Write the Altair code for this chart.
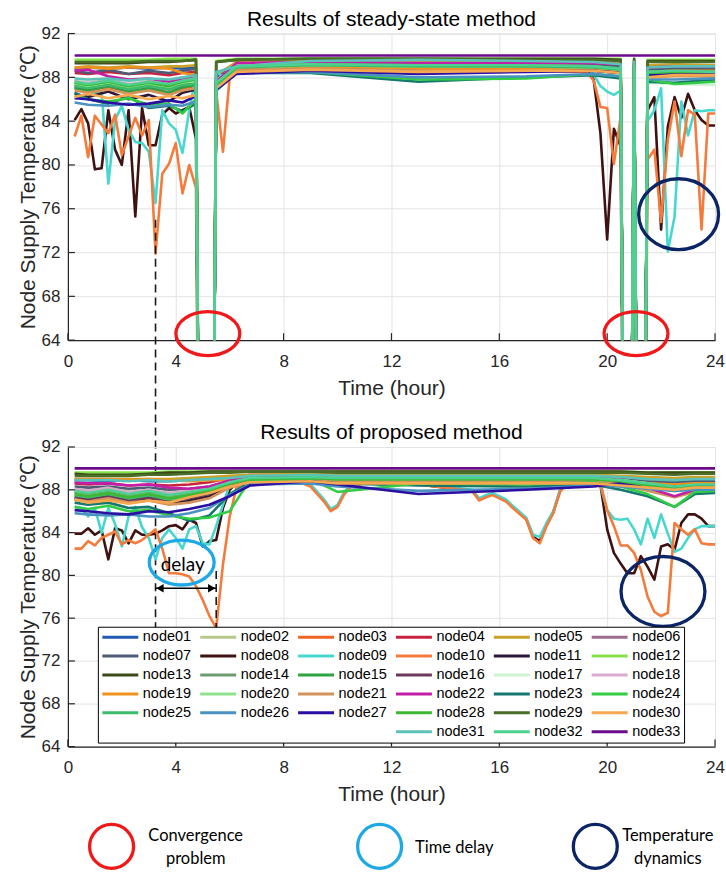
import altair as alt
import pandas as pd

# ---------------------------------------------------------------- data
NODES = [f"node{i:02d}" for i in range(1, 34)]
COLORS = [
    "#1f5bb3", "#b8c98c", "#f06422", "#c7223f", "#c9a227", "#9c6b8e",
    "#4e5d77", "#3f1212", "#46d8cf", "#f47b3b", "#2f1636", "#84e04c",
    "#3a4a18", "#6f9b70", "#2da441", "#6a3a5d", "#cdf3d2", "#d8aacb",
    "#f0921f", "#8fe38c", "#d4935b", "#c41ea9", "#14786f", "#33cc45",
    "#3cbd6b", "#4a92c1", "#2b0fa3", "#3cb833", "#4a6d28", "#f5a84f",
    "#5cc2b9", "#4dd190", "#6b0b8c",
]
BLANKS = [" ", "  ", "   "]
# legend grid as it appears (6 rows x 6 columns, read row by row)
LEGEND_ROWS = [NODES[0:6], NODES[6:12], NODES[12:18], NODES[18:24], NODES[24:30],
               BLANKS + NODES[30:33]]

X_TICKS = [0, 4, 8, 12, 16, 20, 24]
Y_TICKS = [64, 68, 72, 76, 80, 84, 88, 92]

# source node (constant supply temperature)
T_SOURCE = [0.25, 24.0]
V_SOURCE = [90.0, 90.0]

# time steps where the steady-state method did not converge
NONCONV_T = [5.0, 5.25, 20.75, 21.25]
NONCONV_V = 0.0

# ---- steady-state method, background nodes
T_TOP = [0.25, 0.75, 1.5, 2.25, 3.0, 3.75, 4.25, 4.75, 5.5, 6.25, 9, 13, 17,
         19.5, 20.5, 21.0, 21.5, 22.5, 24]
TOP = {
    "node01": [88.8, 88.9, 88.8, 88.9, 88.8, 88.9, 88.8, 88.9, 88.0, 89.0, 89.1, 89.0, 89.0, 89.0, 88.9, 89.0, 88.7, 88.8, 88.8],
    "node02": [87.8, 87.6, 87.9, 87.7, 87.8, 87.6, 87.9, 88.0, 87.6, 89.2, 89.3, 89.2, 89.2, 89.2, 89.0, 89.2, 88.6, 88.7, 88.7],
    "node03": [87.0, 86.8, 87.1, 86.7, 87.0, 86.6, 87.0, 87.2, 87.2, 88.7, 88.8, 88.7, 88.7, 88.7, 88.5, 88.8, 88.1, 88.3, 88.2],
    "node04": [88.4, 88.3, 88.5, 88.3, 88.4, 88.2, 88.4, 88.5, 87.8, 89.3, 89.4, 89.3, 89.3, 89.3, 89.2, 89.3, 88.9, 89.0, 89.0],
    "node05": [88.9, 89.0, 88.9, 89.0, 88.9, 89.0, 89.0, 89.1, 88.2, 89.4, 89.5, 89.4, 89.4, 89.4, 89.3, 89.4, 89.1, 89.2, 89.1],
    "node06": [87.6, 87.4, 87.7, 87.3, 87.6, 87.3, 87.6, 87.8, 87.4, 89.0, 89.1, 89.0, 89.0, 89.0, 88.8, 89.0, 88.5, 88.6, 88.5],
    "node07": [88.6, 88.4, 88.7, 88.3, 88.6, 88.4, 88.6, 88.8, 87.9, 89.1, 89.2, 89.1, 89.1, 89.1, 89.0, 89.1, 88.7, 88.8, 88.8],
    "node11": [86.5, 86.2, 86.7, 86.0, 86.4, 85.8, 86.6, 86.9, 87.1, 88.6, 88.8, 88.7, 88.7, 88.6, 88.4, 88.6, 88.0, 88.2, 88.1],
    "node12": [89.6, 89.6, 89.6, 89.6, 89.6, 89.7, 89.7, 89.7, 89.5, 89.7, 89.7, 89.7, 89.7, 89.7, 89.7, 89.7, 89.6, 89.6, 89.6],
    "node13": [89.3, 89.3, 89.3, 89.3, 89.4, 89.4, 89.5, 89.6, 89.4, 89.6, 89.7, 89.7, 89.7, 89.7, 89.6, 89.7, 89.5, 89.5, 89.5],
    "node14": [87.3, 87.1, 87.4, 87.0, 87.3, 87.0, 87.4, 87.6, 87.3, 88.9, 89.1, 89.0, 89.0, 88.9, 88.7, 88.9, 88.3, 88.4, 88.4],
    "node15": [87.0, 86.8, 87.2, 86.7, 87.0, 86.6, 87.1, 87.3, 87.2, 88.8, 89.0, 88.9, 88.9, 88.8, 88.6, 88.8, 88.2, 88.3, 88.3],
    "node16": [87.2, 87.0, 87.3, 86.9, 87.2, 86.9, 87.3, 87.5, 87.3, 88.8, 89.0, 88.9, 88.9, 88.8, 88.6, 88.8, 88.2, 88.3, 88.3],
    "node17": [87.9, 87.7, 88.0, 87.6, 87.9, 87.7, 88.0, 88.1, 87.7, 89.1, 89.2, 89.1, 89.1, 89.0, 88.7, 89.0, 87.5, 87.4, 87.3],
    "node18": [87.6, 87.5, 87.7, 87.4, 87.6, 87.4, 87.7, 87.8, 87.5, 89.0, 89.1, 89.0, 89.0, 88.9, 88.7, 88.9, 88.4, 88.5, 88.4],
    "node19": [88.9, 88.9, 88.8, 88.9, 88.9, 88.8, 88.4, 88.2, 87.6, 88.9, 89.0, 88.8, 88.8, 88.8, 88.7, 88.8, 88.5, 88.6, 88.6],
    "node20": [87.4, 87.2, 87.5, 87.1, 87.4, 87.1, 87.5, 87.6, 87.4, 88.9, 89.1, 89.0, 89.0, 88.9, 88.7, 88.9, 88.3, 88.4, 88.3],
    "node21": [86.8, 86.6, 86.9, 86.5, 86.8, 86.4, 86.8, 87.0, 87.0, 88.7, 88.8, 88.6, 88.6, 88.6, 88.4, 88.6, 88.0, 88.1, 88.1],
    "node22": [88.6, 88.7, 88.1, 87.8, 87.9, 87.6, 87.8, 88.2, 87.6, 89.3, 89.4, 89.3, 89.3, 89.3, 89.2, 89.3, 88.9, 89.0, 89.0],
    "node23": [86.6, 86.0, 85.6, 86.2, 85.2, 85.4, 84.9, 85.6, 86.8, 88.4, 88.4, 87.6, 88.0, 88.2, 87.9, 88.4, 87.6, 87.5, 87.8],
    "node24": [86.3, 86.0, 85.8, 86.1, 85.5, 85.6, 84.7, 86.0, 86.9, 88.5, 88.5, 87.8, 87.9, 88.3, 88.1, 88.4, 87.8, 87.4, 87.6],
    "node25": [87.2, 87.0, 87.3, 86.9, 87.2, 86.9, 87.3, 87.4, 87.2, 88.9, 89.1, 89.0, 89.0, 88.9, 88.7, 88.9, 88.3, 88.4, 88.4],
    "node26": [85.7, 85.5, 85.4, 85.6, 85.3, 85.5, 85.4, 85.8, 86.8, 88.4, 88.5, 88.0, 88.1, 88.3, 88.1, 88.4, 87.8, 87.8, 87.9],
    "node27": [86.1, 86.0, 85.7, 85.5, 85.6, 85.9, 85.7, 86.3, 86.9, 88.3, 88.6, 88.3, 88.5, 88.6, 88.4, 88.6, 88.2, 88.3, 88.3],
    "node28": [87.5, 87.3, 87.6, 87.2, 87.5, 87.2, 87.6, 87.8, 87.4, 89.0, 89.2, 89.1, 89.1, 89.0, 88.8, 89.0, 88.4, 88.5, 88.5],
    "node29": [89.4, 89.4, 89.4, 89.4, 89.5, 89.5, 89.5, 89.6, 89.4, 89.6, 89.7, 89.7, 89.6, 89.6, 89.5, 89.6, 89.4, 89.4, 89.4],
    "node30": [86.2, 86.5, 86.1, 86.4, 86.0, 86.3, 86.1, 86.4, 87.0, 88.5, 88.7, 88.5, 88.6, 88.6, 88.4, 88.6, 88.0, 88.2, 88.2],
    "node31": [87.9, 87.8, 87.9, 87.7, 87.9, 87.8, 88.0, 88.2, 88.5, 89.0, 89.5, 89.6, 89.5, 89.4, 89.2, 89.4, 88.9, 89.0, 89.0],
    "node32": [87.6, 87.4, 87.7, 87.3, 87.6, 87.4, 87.7, 87.9, 87.5, 89.0, 89.2, 89.1, 89.1, 89.0, 88.8, 89.0, 88.5, 88.6, 88.5],
}

# ---- steady-state method, strongly varying nodes
T_TOP_FINE = [0.25, 0.5, 0.75, 1.0, 1.25, 1.5, 1.75, 2.0, 2.25, 2.5, 2.75, 3.0,
              3.25, 3.5, 3.75, 4.0, 4.25, 4.5, 4.75,
              5.5, 5.75, 6.0, 6.25, 9, 13, 17, 19.25, 19.5, 19.75, 20.0, 20.25,
              20.5, 21.0, 21.5, 21.75, 22.0, 22.25, 22.5, 22.75, 23.0, 23.25,
              23.5, 23.75, 24.0]
TOP_FINE = {
    "node08": [84.1, 85.1, 83.8, 79.6, 79.7, 85.0, 81.4, 80.0, 85.0, 75.3, 85.2, 81.8,
               81.8, 84.6, 85.2, 84.7, 85.0, 85.3, 82.4,
               87.0, 87.6, 88.2, 88.6, 88.8, 88.7, 88.7, 88.6, 87.8, 82.9, 73.2, 83.3,
               81.7, 88.4, 85.0, 86.2, 74.1, 83.5, 86.2, 84.3, 86.5, 85.0,
               84.1, 83.6, 83.6],
    "node09": [87.0, 86.8, 86.9, 86.5, 86.7, 78.3, 84.1, 85.4, 83.2, 82.1, 82.0, 81.2,
               76.5, 85.0, 83.8, 83.2, 81.1, 85.0, 88.2,
               88.6, 88.0, 88.9, 89.0, 89.2, 89.1, 89.0, 88.9, 88.3, 87.2, 86.7, 86.4,
               86.8, 88.6, 84.0, 85.0, 87.0, 72.1, 75.3, 85.8, 82.7, 85.0,
               84.9, 85.0, 85.0],
    "node10": [82.6, 84.5, 80.7, 84.5, 83.7, 82.9, 84.6, 80.9, 82.6, 84.3, 82.7, 84.1,
               71.9, 79.2, 80.1, 82.0, 77.4, 80.0, 77.9,
               86.7, 81.2, 88.0, 88.6, 88.7, 88.6, 88.6, 88.5, 87.7, 85.3, 85.2, 80.1,
               84.4, 88.4, 80.5, 81.4, 74.8, 82.3, 85.8, 80.8, 85.0, 84.6,
               74.1, 84.7, 84.7],
}

# ---- proposed method, background nodes
T_BOT = [0.25, 0.75, 1.5, 2.25, 3.0, 3.75, 4.5, 5.25, 6.0, 6.75, 9, 10, 13, 17,
         19.5, 20.5, 21.5, 22.5, 23.25, 24]
BOT = {
    "node01": [88.9, 88.9, 88.8, 88.9, 88.8, 88.8, 88.9, 89.0, 89.2, 89.3, 89.3, 89.2, 89.2, 89.2, 89.2, 89.1, 88.9, 88.8, 88.9, 88.9],
    "node02": [88.0, 87.9, 88.1, 87.9, 88.0, 87.8, 87.9, 88.2, 88.8, 89.2, 89.3, 89.2, 89.2, 89.2, 89.2, 89.0, 88.8, 88.6, 88.8, 88.8],
    "node03": [87.1, 86.9, 87.2, 86.8, 87.0, 86.7, 86.9, 87.3, 88.3, 88.9, 89.0, 88.9, 88.9, 88.9, 88.9, 88.7, 88.4, 88.0, 88.3, 88.3],
    "node04": [88.6, 88.5, 88.6, 88.4, 88.5, 88.4, 88.5, 88.7, 89.1, 89.4, 89.4, 89.3, 89.3, 89.3, 89.3, 89.2, 89.0, 88.9, 89.0, 89.0],
    "node05": [89.0, 89.0, 89.0, 89.0, 89.0, 89.0, 89.1, 89.2, 89.3, 89.4, 89.5, 89.4, 89.4, 89.4, 89.4, 89.3, 89.2, 89.1, 89.2, 89.2],
    "node06": [87.8, 87.6, 87.8, 87.5, 87.7, 87.5, 87.7, 88.0, 88.7, 89.1, 89.2, 89.1, 89.1, 89.1, 89.1, 88.9, 88.6, 88.4, 88.6, 88.6],
    "node07": [88.3, 88.2, 88.3, 88.1, 88.2, 88.0, 88.1, 88.3, 88.8, 89.1, 89.2, 89.1, 89.1, 89.1, 89.1, 89.0, 88.8, 88.7, 88.8, 88.8],
    "node11": [87.2, 87.0, 87.3, 86.9, 87.1, 86.8, 87.0, 87.4, 88.5, 88.9, 89.0, 88.9, 88.9, 88.9, 88.9, 88.7, 88.3, 88.0, 88.2, 88.2],
    "node12": [89.6, 89.6, 89.6, 89.6, 89.6, 89.7, 89.7, 89.7, 89.7, 89.7, 89.7, 89.7, 89.7, 89.7, 89.7, 89.7, 89.6, 89.6, 89.6, 89.6],
    "node13": [89.5, 89.4, 89.4, 89.4, 89.5, 89.6, 89.6, 89.7, 89.7, 89.7, 89.7, 89.7, 89.7, 89.7, 89.7, 89.7, 89.6, 89.6, 89.6, 89.6],
    "node14": [87.8, 87.6, 87.9, 87.5, 87.8, 87.4, 87.7, 88.0, 88.6, 89.0, 89.1, 89.0, 89.0, 89.0, 89.0, 88.8, 88.4, 88.1, 88.3, 88.3],
    "node15": [87.4, 87.2, 87.5, 87.1, 87.4, 86.9, 87.2, 87.8, 88.4, 89.0, 89.1, 89.0, 89.0, 89.0, 89.0, 88.8, 88.2, 87.9, 88.1, 88.1],
    "node16": [87.3, 87.1, 87.4, 87.0, 87.3, 86.9, 87.2, 87.6, 88.4, 88.9, 89.0, 88.9, 88.9, 88.9, 88.9, 88.7, 88.3, 88.0, 88.2, 88.2],
    "node17": [88.0, 87.8, 88.1, 87.8, 88.0, 87.7, 87.9, 88.2, 88.8, 89.1, 89.2, 89.1, 89.1, 89.1, 89.1, 88.9, 88.6, 88.3, 88.5, 88.5],
    "node18": [88.1, 87.9, 88.2, 87.8, 88.0, 87.7, 87.9, 88.3, 88.8, 89.1, 89.2, 89.1, 89.1, 89.1, 89.1, 88.9, 88.5, 88.2, 88.4, 88.4],
    "node19": [89.0, 89.0, 89.0, 88.9, 89.0, 88.9, 88.8, 88.9, 88.9, 89.0, 89.0, 88.9, 88.9, 88.9, 88.9, 88.8, 88.6, 88.5, 88.6, 88.6],
    "node20": [87.6, 87.4, 87.7, 87.3, 87.6, 87.2, 87.5, 87.9, 88.6, 89.0, 89.1, 89.0, 89.0, 89.0, 89.0, 88.8, 88.3, 88.0, 88.2, 88.2],
    "node21": [87.1, 86.9, 87.2, 86.8, 87.0, 86.6, 86.8, 87.2, 88.2, 88.8, 88.9, 88.8, 88.8, 88.8, 88.8, 88.5, 87.9, 87.3, 87.8, 87.8],
    "node22": [88.7, 88.6, 88.6, 88.4, 88.5, 88.2, 88.1, 88.3, 88.9, 89.2, 89.3, 89.2, 89.2, 89.2, 89.2, 88.9, 88.2, 87.4, 88.0, 88.1],
    "node23": [86.8, 86.6, 86.8, 86.3, 86.4, 85.8, 85.1, 85.6, 87.6, 88.7, 88.8, 88.6, 88.4, 88.3, 88.5, 88.0, 87.4, 86.4, 87.6, 87.7],
    "node24": [86.4, 86.2, 86.5, 86.0, 86.1, 85.6, 85.3, 85.4, 86.0, 88.9, 89.0, 87.8, 88.6, 88.5, 88.7, 88.3, 87.6, 86.4, 87.8, 87.9],
    "node25": [87.5, 87.3, 87.6, 87.2, 87.5, 87.1, 87.4, 87.8, 88.6, 89.0, 89.1, 89.0, 89.0, 89.0, 89.0, 88.8, 88.3, 88.0, 88.2, 88.2],
    "node26": [85.8, 85.7, 85.6, 85.7, 85.5, 85.5, 85.8, 86.3, 87.5, 88.5, 88.6, 88.3, 87.9, 88.1, 88.4, 88.3, 88.1, 87.9, 88.0, 88.0],
    "node27": [86.1, 86.0, 85.8, 85.7, 86.0, 85.9, 86.2, 86.6, 87.4, 88.4, 88.8, 88.5, 87.6, 88.0, 88.3, 88.6, 88.4, 88.3, 88.4, 88.4],
    "node28": [87.6, 87.4, 87.7, 87.3, 87.6, 87.2, 87.5, 87.9, 88.6, 89.0, 89.1, 89.0, 89.0, 89.0, 89.0, 88.8, 88.4, 88.1, 88.3, 88.3],
    "node29": [89.3, 89.3, 89.3, 89.3, 89.4, 89.4, 89.5, 89.6, 89.6, 89.7, 89.7, 89.6, 89.6, 89.6, 89.6, 89.6, 89.5, 89.4, 89.5, 89.5],
    "node30": [87.1, 86.8, 87.0, 86.7, 87.0, 86.8, 87.3, 87.7, 88.3, 88.7, 88.8, 88.6, 88.6, 88.6, 88.6, 88.4, 88.2, 88.0, 88.2, 88.2],
    "node31": [88.9, 88.9, 88.9, 88.8, 88.9, 88.8, 88.9, 89.0, 89.1, 89.3, 89.4, 89.3, 89.3, 89.3, 89.3, 89.2, 89.0, 88.9, 89.0, 89.0],
    "node32": [87.9, 87.7, 88.0, 87.6, 87.9, 87.5, 87.8, 88.1, 88.7, 89.1, 89.2, 89.1, 89.1, 89.1, 89.1, 88.9, 88.6, 88.3, 88.5, 88.5],
}

# ---- proposed method, strongly varying nodes
T_BOT_FINE = [0.25, 0.5, 0.75, 1.0, 1.25, 1.5, 1.75, 2.0, 2.25, 2.5, 2.75, 3.0,
              3.25, 3.5, 3.75, 4.0, 4.25, 4.5, 4.75, 5.0, 5.25, 5.5,
              5.75, 6.0, 6.25, 6.5,
              8.5, 9.0, 9.25, 9.5, 9.75, 10.0, 10.25, 10.5,
              11, 13,
              15, 15.25, 15.5, 15.75, 16.25, 16.5,
              17.0, 17.25, 17.5, 17.75, 18.0, 18.25, 18.5,
              19.5, 19.75,
              20.0, 20.25, 20.5, 20.75, 21.0, 21.25, 21.5, 21.75, 22.0, 22.25,
              22.5, 22.75, 23.0, 23.25, 23.5, 23.75, 24.0]
BOT_FINE = {
    "node08": [83.9, 83.9, 84.4, 83.8, 84.2, 81.5, 84.4, 84.2, 83.0, 84.2, 83.8, 83.8,
               83.9, 84.2, 84.6, 84.7, 84.3, 85.2, 84.9, 82.7, 83.2, 83.3,
               86.3, 88.0, 88.6, 88.8,
               88.9, 88.4, 87.7, 87.0, 86.1, 86.5, 87.7, 88.4,
               88.7, 88.5,
               87.9, 87.1, 87.4, 87.6, 87.0, 86.4,
               85.3, 83.6, 83.2, 84.7, 85.9, 87.9, 88.7,
               88.8, 88.5,
               84.3, 82.1, 81.1, 80.2, 80.2, 81.8, 80.8, 79.6, 82.7, 82.9,
               82.4, 84.9, 85.7, 85.7, 85.3, 84.6, 84.6],
    "node09": [86.4, 86.3, 85.5, 86.3, 84.0, 86.3, 84.8, 82.7, 85.5, 86.4, 84.5, 83.5,
               81.5, 83.5, 84.3, 83.5, 82.5, 84.3, 84.6, 83.0, 82.9, 84.6,
               86.6, 88.5, 89.0, 89.1,
               89.0, 88.5, 87.8, 87.1, 86.2, 86.6, 87.8, 88.5,
               88.8, 88.6,
               88.0, 87.2, 87.5, 87.7, 87.1, 86.5,
               85.4, 83.8, 83.6, 84.9, 86.0, 88.0, 88.8,
               88.9, 88.4,
               86.1, 85.3, 85.2, 85.3, 84.3, 82.9, 85.3, 83.5, 85.7, 83.9,
               82.2, 82.5, 83.5, 84.3, 84.6, 84.6, 84.6],
    "node10": [82.5, 82.5, 83.2, 82.8, 83.5, 83.8, 84.1, 82.9, 83.3, 83.0, 83.3, 83.8,
               84.3, 82.5, 80.2, 80.2, 80.1, 79.9, 79.0, 77.7, 76.2, 75.1,
               81.0, 85.5, 88.2, 88.6,
               88.8, 88.3, 87.6, 86.9, 86.0, 86.4, 87.6, 88.3,
               88.6, 88.5,
               87.9, 87.0, 87.3, 87.5, 86.9, 86.3,
               85.2, 83.5, 83.0, 84.6, 85.8, 87.8, 88.6,
               88.7, 88.6,
               86.1, 84.6, 82.8, 82.8, 82.1, 80.5, 78.0, 76.6, 76.2, 76.5,
               84.9, 84.3, 83.8, 84.3, 83.0, 82.9, 82.9],
}

# ---- annotations (data coordinates: hour, degC)
CONV_T, CONV_V = [5.19, 21.07], [64.6, 64.6]
DYN_TOP_T, DYN_TOP_V = [22.65], [75.5]
DYN_BOT_T, DYN_BOT_V = [22.07], [78.5]
DELAY_T, DELAY_V = [4.22], [81.2]
DELAY_START, DELAY_END = 3.25, 5.5
DELAY_ARROW_V = 78.8
DASH_TOP_V = 75.0
DASH_BOT_V = 75.1
DASH_RIGHT_V = 80.4
KEY_T = [1.62, 11.56, 19.56]
KEY_V = 54.67
KEY_TEXT = ["Convergence", "problem", "Time delay", "Temperature", "dynamics"]
KEY_TEXT_T = [4.74, 4.74, 14.33, 22.25, 22.25]
KEY_TEXT_V = [55.6, 53.45, 54.5, 55.6, 53.45]

# ---------------------------------------------------------------- layout
W, TOP_H, BOT_H, GAP = 648, 307, 300, 107
FONT = "Liberation Sans"
FONT2 = "Lato"
RED, CYAN, NAVY = "#f01818", "#1ea9e6", "#0b2466"

color_of = dict(zip(NODES, COLORS))
color_of.update({b: "transparent" for b in BLANKS})
# the legend fills column by column: list the grid column-wise
LEGEND_ORDER = [LEGEND_ROWS[r][c] for c in range(6) for r in range(6)]
LEGEND_COLORS = [color_of[n] for n in LEGEND_ORDER]


def build(coarse_t, coarse, fine_t, fine, nonconv=False):
    rows = []
    for n in NODES:
        if n in fine:
            ts, vs = fine_t, fine[n]
        elif n == "node33":
            ts, vs = T_SOURCE, V_SOURCE
        else:
            ts, vs = coarse_t, coarse[n]
        assert len(ts) == len(vs), n
        for t, v in zip(ts, vs):
            rows.append({"node": n, "t": t, "v": v})
        if nonconv and n != "node33":
            for t in NONCONV_T:
                rows.append({"node": n, "t": t, "v": NONCONV_V})
    return pd.DataFrame(rows)


def ellipse_shape(w, h):
    if w >= h:
        rx, ry, size = 1.0, h / w, w * w
    else:
        rx, ry, size = w / h, 1.0, h * h
    k = 0.5523
    p = (f"M {rx:.4f} 0 C {rx:.4f} {k*ry:.4f} {k*rx:.4f} {ry:.4f} 0 {ry:.4f} "
         f"C {-k*rx:.4f} {ry:.4f} {-rx:.4f} {k*ry:.4f} {-rx:.4f} 0 "
         f"C {-rx:.4f} {-k*ry:.4f} {-k*rx:.4f} {-ry:.4f} 0 {-ry:.4f} "
         f"C {k*rx:.4f} {-ry:.4f} {rx:.4f} {-k*ry:.4f} {rx:.4f} 0 Z")
    return p, size


X = alt.X("t:Q", scale=alt.Scale(domain=[0, 24], nice=False, zero=False),
          axis=alt.Axis(values=X_TICKS, title="Time (hour)", grid=True, ticks=False,
                        tickSize=0, labelPadding=13, titlePadding=8, format="d",
                        labelFlush=False, labelOverlap=False))
Y = alt.Y("v:Q", scale=alt.Scale(domain=[64, 92], nice=False, zero=False),
          axis=alt.Axis(values=Y_TICKS, title="Node Supply Temperature (℃)", grid=True,
                        ticks=False, tickSize=0, labelPadding=8, titlePadding=3,
                        format="d", labelOverlap=False))


def color_enc(legend):
    return alt.Color("node:N", scale=alt.Scale(domain=LEGEND_ORDER, range=LEGEND_COLORS),
                     legend=legend)


def ellipse_layer(ts, vs, w, h, color, sw=3.3):
    shape, size = ellipse_shape(w, h)
    df = pd.DataFrame({"t": ts, "v": vs})
    return alt.Chart(df).mark_point(shape=shape, size=size, filled=False, strokeWidth=sw,
                                    color=color, opacity=1).encode(x=X, y=Y)


def tick_layers(h):
    yt = alt.Chart(pd.DataFrame({"v": Y_TICKS})).mark_rule(color="#262626", strokeWidth=1.2).encode(
        y=Y, x=alt.value(0), x2=alt.value(7))
    xt = alt.Chart(pd.DataFrame({"t": X_TICKS})).mark_rule(color="#262626", strokeWidth=1.2).encode(
        x=X, y=alt.value(h), y2=alt.value(h - 7))
    return [yt, xt]


def title(txt):
    return alt.TitleParams(txt, fontSize=21, font=FONT, fontWeight="normal", offset=-5,
                           color="black", anchor="middle")


# ---------------------------------------------------------------- top panel
df_top = build(T_TOP, TOP, T_TOP_FINE, TOP_FINE, nonconv=True)
top_lines = alt.Chart(df_top).mark_line(clip=True, strokeWidth=2.6, strokeJoin="round").encode(
    x=X, y=Y, color=color_enc(None))
dash_top = alt.Chart(pd.DataFrame({"t": [DELAY_START], "v": [DASH_TOP_V]})).mark_rule(
    color="#1a1a1a", strokeWidth=1.6, strokeDash=[8, 5]).encode(
    x=X, y=Y, y2=alt.value(TOP_H + GAP + (92 - DASH_BOT_V) * BOT_H / 28))
top = alt.layer(
    top_lines, *tick_layers(TOP_H), dash_top,
    ellipse_layer(CONV_T, CONV_V, 64, 44, RED),
    ellipse_layer(DYN_TOP_T, DYN_TOP_V, 80, 71, NAVY),
).properties(width=W, height=TOP_H, title=title("Results of steady-state method"))

# ---------------------------------------------------------------- bottom panel
df_bot = build(T_BOT, BOT, T_BOT_FINE, BOT_FINE)
legend = alt.Legend(title=None, orient="none", legendX=30, legendY=180, columns=6,
                    symbolType="stroke", symbolStrokeWidth=3, symbolSize=1296,
                    clipHeight=14.5, labelFont=FONT, labelFontSize=14.5, labelColor="black",
                    labelOffset=3, columnPadding=7, rowPadding=3, padding=3,
                    strokeColor="black", fillColor="white", symbolLimit=60, labelLimit=200,
                    gridAlign="all")
bot_lines = alt.Chart(df_bot).mark_line(clip=True, strokeWidth=2.6, strokeJoin="round").encode(
    x=X, y=Y, color=color_enc(legend))
dash_right = alt.Chart(pd.DataFrame({"t": [DELAY_END], "v": [DASH_RIGHT_V], "v2": [DASH_BOT_V]})).mark_rule(
    color="#1a1a1a", strokeWidth=1.6, strokeDash=[8, 5]).encode(x=X, y=Y, y2="v2:Q")
arrow = alt.Chart(pd.DataFrame({"t": [DELAY_START], "t2": [DELAY_END], "v": [DELAY_ARROW_V]})).mark_rule(
    color="black", strokeWidth=1.6).encode(x=X, x2="t2:Q", y=Y)
head_l = alt.Chart(pd.DataFrame({"t": [DELAY_START], "v": [DELAY_ARROW_V]})).mark_point(
    shape="triangle-left", filled=True, size=70, color="black", opacity=1, xOffset=4.5).encode(x=X, y=Y)
head_r = alt.Chart(pd.DataFrame({"t": [DELAY_END], "v": [DELAY_ARROW_V]})).mark_point(
    shape="triangle-right", filled=True, size=70, color="black", opacity=1, xOffset=-4.5).encode(x=X, y=Y)
delay_txt = alt.Chart(pd.DataFrame({"t": [4.26], "v": [81.0], "s": ["delay"]})).mark_text(
    font=FONT2, fontSize=19, color="black").encode(x=X, y=Y, text="s:N")
key_txt = alt.Chart(pd.DataFrame({"t": KEY_TEXT_T, "v": KEY_TEXT_V, "s": KEY_TEXT})).mark_text(
    font=FONT2, fontSize=16.5, color="black").encode(x=X, y=Y, text="s:N")

bottom = alt.layer(
    bot_lines, *tick_layers(BOT_H), dash_right, arrow, head_l, head_r,
    ellipse_layer(DELAY_T, DELAY_V, 65, 45, CYAN),
    delay_txt,
    ellipse_layer(DYN_BOT_T, DYN_BOT_V, 84, 70, NAVY),
    ellipse_layer([KEY_T[0]], [KEY_V], 44, 44, RED),
    ellipse_layer([KEY_T[1]], [KEY_V], 44, 44, CYAN),
    ellipse_layer([KEY_T[2]], [KEY_V], 44, 44, NAVY),
    key_txt,
).properties(width=W, height=BOT_H, title=title("Results of proposed method"))

chart = alt.vconcat(top, bottom, spacing=GAP, bounds="flush").resolve_scale(
    color="independent").resolve_legend(color="independent").properties(
    padding={"left": 16, "top": 7, "right": 0, "bottom": 0}
).configure_view(stroke="#d9d9d9", strokeWidth=1).configure_axis(
    labelFont=FONT, labelFontSize=17, labelColor="#262626",
    titleFont=FONT, titleFontSize=21, titleFontWeight="normal", titleColor="#262626",
    domainColor="#262626", domainWidth=1.2, gridColor="#e3e3e3", gridWidth=1,
)

chart.save("out.html", embed_options={"renderer": "svg", "actions": False})
